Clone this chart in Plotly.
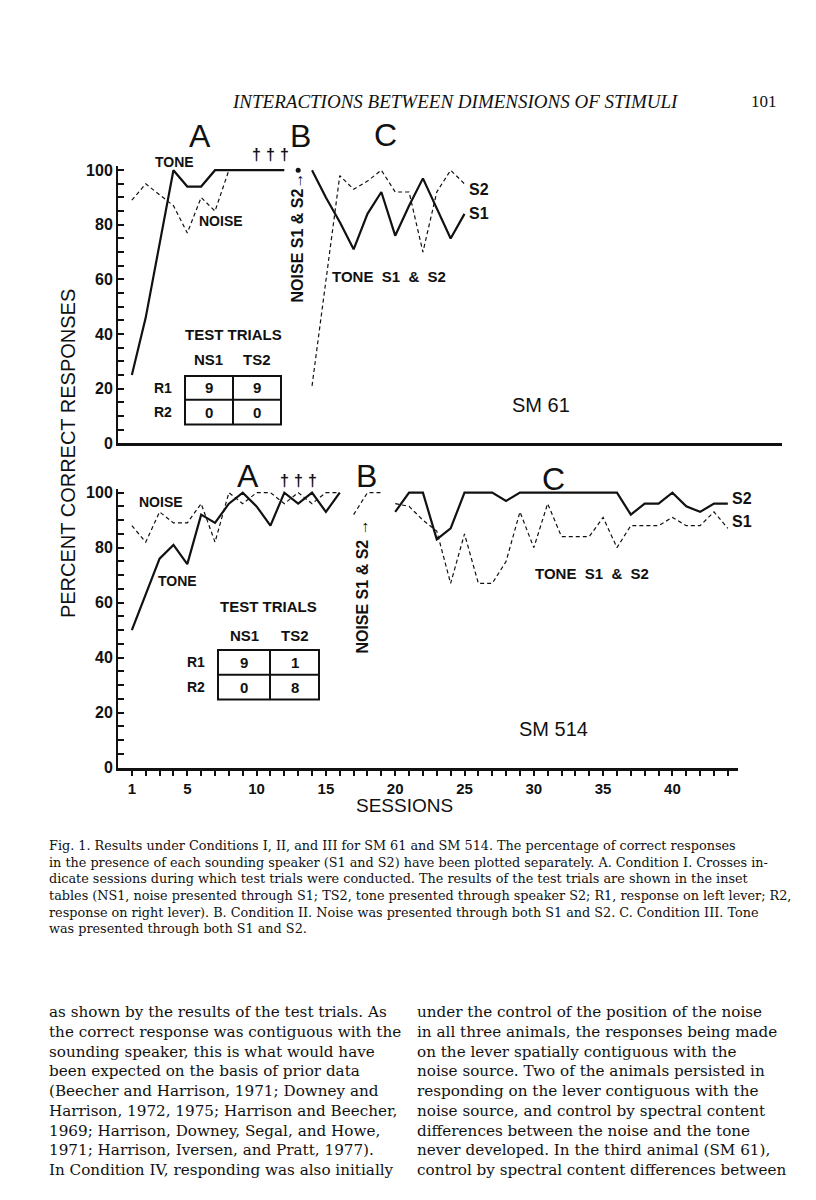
import plotly.graph_objects as go

W, H = 816, 1200


def px(x):
    return x / W


def py(y):
    return 1 - y / H


# ---------------- data ----------------
sm61_a_sessions = list(range(1, 13))
sm61_a_tone = [25, 46, 73, 100, 94, 94, 100, 100, 100, 100, 100, 100]
sm61_a_noise = [89, 95, 91, 87, 77, 90, 85, 100, 100, 100, 100, 100]
sm61_b_sessions = [13]
sm61_b_noise = [100]
sm61_c_sessions = list(range(14, 26))
sm61_c_s1 = [100, 90, 81, 71, 84, 92, 76, 87, 97, 86, 75, 84]
sm61_c_s2 = [21, 59, 98, 93, 96, 100, 92, 92, 70, 92, 100, 95]
sm61_test_sessions = [10, 11, 12]
sm61_table = [["9", "9"], ["0", "0"]]

sm514_a_sessions = list(range(1, 17))
sm514_a_tone = [50, 63, 76, 81, 74, 92, 89, 96, 100, 95, 88, 100, 96, 100, 93, 100]
sm514_a_noise = [88, 82, 93, 89, 89, 96, 82, 100, 96, 100, 100, 96, 100, 96, 100, 100]
sm514_b_sessions = [17, 18, 19]
sm514_b_noise = [92, 100, 100]
sm514_c_sessions = list(range(20, 45))
sm514_c_s2 = [93, 100, 100, 83, 87, 100, 100, 100, 97, 100, 100, 100, 100,
              100, 100, 100, 100, 92, 96, 96, 100, 95, 93, 96, 96]
sm514_c_s1 = [96, 95, 90, 86, 67, 85, 67, 67, 75, 93, 80, 96, 84,
              84, 84, 91, 80, 88, 88, 88, 91, 88, 88, 93, 87]
sm514_test_sessions = [12, 13, 14]
sm514_table = [["9", "1"], ["0", "8"]]

x_ticks = list(range(1, 45))
x_tick_labels = [str(v) if v in (1, 5, 10, 15, 20, 25, 30, 35, 40) else "" for v in x_ticks]
y_ticks = list(range(0, 101, 5))
y_tick_labels = [str(v) if v % 20 == 0 else "" for v in y_ticks]

SANS = "Liberation Sans"
SERIF = "Liberation Serif"
BODY = "DejaVu Serif"
BLACK = "#111111"
NB = "\u00a0"

fig = go.Figure()

solid = dict(color=BLACK, width=2.2)
dashed = dict(color=BLACK, width=1.2, dash="4px,3px")


def add_line(x, y, line, xa="x", ya="y"):
    fig.add_trace(go.Scatter(x=x, y=y, mode="lines", line=line, xaxis=xa, yaxis=ya,
                             showlegend=False, hoverinfo="skip"))


# top panel SM 61
add_line(sm61_a_sessions, sm61_a_tone, solid)
add_line(sm61_a_sessions, sm61_a_noise, dashed)
fig.add_trace(go.Scatter(x=sm61_b_sessions, y=sm61_b_noise, mode="markers",
                         marker=dict(color=BLACK, size=5), showlegend=False,
                         hoverinfo="skip", cliponaxis=False))
add_line(sm61_c_sessions, sm61_c_s1, solid)
add_line(sm61_c_sessions, sm61_c_s2, dashed)

# bottom panel SM 514
add_line(sm514_a_sessions, sm514_a_tone, solid, "x2", "y2")
add_line(sm514_a_sessions, sm514_a_noise, dashed, "x2", "y2")
add_line(sm514_b_sessions, sm514_b_noise, dashed, "x2", "y2")
add_line(sm514_c_sessions, sm514_c_s2, solid, "x2", "y2")
add_line(sm514_c_sessions, sm514_c_s1, dashed, "x2", "y2")

SCALE_X = 13.86
X0 = 118

tickfont = dict(family=SANS, size=16, color=BLACK, weight="bold")

yax = dict(range=[0, 101.5], showline=True, linewidth=2, linecolor=BLACK,
           ticks="inside", ticklen=6, tickwidth=1.5, tickcolor=BLACK,
           tickvals=y_ticks, ticktext=y_tick_labels, tickfont=tickfont,
           showgrid=False, zeroline=False, fixedrange=True)

fig.update_layout(
    width=W, height=H, margin=dict(l=0, r=0, t=0, b=0),
    paper_bgcolor="white", plot_bgcolor="white",
    xaxis=dict(domain=[px(X0), px(782)], range=[0, (782 - X0) / SCALE_X],
               showline=True, linewidth=2.5, linecolor=BLACK, ticks="",
               showticklabels=False, showgrid=False, zeroline=False, anchor="y"),
    yaxis=dict(domain=[py(444), py(444 - 101.5 * 2.76)], anchor="x", **yax),
    xaxis2=dict(domain=[px(X0), px(738)], range=[0, (738 - X0) / SCALE_X],
                showline=True, linewidth=2.5, linecolor=BLACK, ticks="outside",
                ticklen=6, tickwidth=1.5, tickcolor=BLACK, tickvals=x_ticks,
                ticktext=x_tick_labels, tickfont=dict(tickfont, size=15),
                showgrid=False, zeroline=False, anchor="y2"),
    yaxis2=dict(domain=[py(772), py(772 - 101.5 * 2.78)], anchor="x2", **yax),
)

annotations = []


def txt(x, y, s, size=14, bold=False, angle=0, xanchor="center", family=SANS,
        italic=False, xref="paper", yanchor="middle", align="center"):
    annotations.append(dict(
        x=(x if xref != "paper" else px(x)), y=py(y), xref=xref, yref="paper", text=s,
        showarrow=False, xanchor=xanchor, yanchor=yanchor, textangle=angle, align=align,
        font=dict(family=family, size=size, color=BLACK,
                  weight="bold" if bold else "normal",
                  style="italic" if italic else "normal")))


# header
txt(455, 99, "INTERACTIONS BETWEEN DIMENSIONS OF STIMULI", 19, family=SERIF, italic=True)
txt(764, 99, "101", 17, family=SERIF)

# condition letters
for (x, y, s) in [(200, 133, "A"), (300, 133, "B"), (385, 132, "C"),
                  (248, 477, "A"), (366, 477, "B"), (553, 480, "C")]:
    txt(x, y, s, 32)

# top panel labels
txt(174, 160, "TONE", 14, True)
txt(221, 219, "NOISE", 14, True)
txt(297, 236, "NOISE S1 &amp; S2→", 16, True, angle=-90)
txt(389, 275, f"TONE{NB} S1{NB} &amp;{NB} S2", 15, True)
txt(467, 188, "S2", 16, True, xanchor="left")
txt(467, 212, "S1", 16, True, xanchor="left")
txt(541, 405, "SM 61", 20)
for s in sm61_test_sessions:
    txt(s, 152, "†", 16, True, xref="x")

# bottom panel labels
txt(161, 503, "NOISE", 14, True)
txt(177, 583, "TONE", 14, True)
txt(363, 589, "NOISE S1 &amp; S2 →", 16, True, angle=-90)
txt(592, 576, f"TONE{NB} S1{NB} &amp;{NB} S2", 15, True)
txt(730, 500, "S2", 16, True, xanchor="left")
txt(730, 523, "S1", 16, True, xanchor="left")
txt(553, 733, "SM 514", 20)
for s in sm514_test_sessions:
    txt(s, 482, "†", 16, True, xref="x2")

# inset tables
shapes = []


def table(x0, y0, x1, y1, xm, ym, title_y, head_y, cells, rlabel_x):
    shapes.append(dict(type="rect", xref="paper", yref="paper", x0=px(x0), x1=px(x1),
                       y0=py(y1), y1=py(y0), line=dict(color=BLACK, width=2)))
    shapes.append(dict(type="line", xref="paper", yref="paper", x0=px(xm), x1=px(xm),
                       y0=py(y1), y1=py(y0), line=dict(color=BLACK, width=2)))
    shapes.append(dict(type="line", xref="paper", yref="paper", x0=px(x0), x1=px(x1),
                       y0=py(ym), y1=py(ym), line=dict(color=BLACK, width=2)))
    c1 = (x0 + xm) / 2
    c2 = (xm + x1) / 2
    txt((x0 + x1) / 2, title_y, "TEST TRIALS", 15, True)
    txt(c1, head_y, "NS1", 15, True)
    txt(c2, head_y, "TS2", 15, True)
    r1 = (y0 + ym) / 2
    r2 = (ym + y1) / 2
    txt(rlabel_x, r1, "R1", 14, True)
    txt(rlabel_x, r2, "R2", 14, True)
    txt(c1, r1, cells[0][0], 15, True)
    txt(c2, r1, cells[0][1], 15, True)
    txt(c1, r2, cells[1][0], 15, True)
    txt(c2, r2, cells[1][1], 15, True)


table(185, 376, 281, 425, 233, 400, 334, 359, sm61_table, 163)
table(218, 653, 319, 703, 270, 678, 609, 638, sm514_table, 196)

# axis titles
txt(68, 455, "PERCENT CORRECT RESPONSES", 20, angle=-90)
txt(404, 810, "SESSIONS", 19)

# caption
caption = [
    "Fig. 1. Results under Conditions I, II, and III for SM 61 and SM 514. The percentage of correct responses",
    "in the presence of each sounding speaker (S1 and S2) have been plotted separately. A. Condition I. Crosses in-",
    "dicate sessions during which test trials were conducted. The results of the test trials are shown in the inset",
    "tables (NS1, noise presented through S1; TS2, tone presented through speaker S2; R1, response on left lever; R2,",
    "response on right lever). B. Condition II. Noise was presented through both S1 and S2. C. Condition III. Tone",
    "was presented through both S1 and S2.",
]
txt(47, 841, "<br>".join(caption), 12.8, family=BODY, xanchor="left", yanchor="top", align="left")

left_col = [
    "as shown by the results of the test trials. As",
    "the correct response was contiguous with the",
    "sounding speaker, this is what would have",
    "been expected on the basis of prior data",
    "(Beecher and Harrison, 1971; Downey and",
    "Harrison, 1972, 1975; Harrison and Beecher,",
    "1969; Harrison, Downey, Segal, and Howe,",
    "1971; Harrison, Iversen, and Pratt, 1977).",
    "In Condition IV, responding was also initially",
]
right_col = [
    "under the control of the position of the noise",
    "in all three animals, the responses being made",
    "on the lever spatially contiguous with the",
    "noise source. Two of the animals persisted in",
    "responding on the lever contiguous with the",
    "noise source, and control by spectral content",
    "differences between the noise and the tone",
    "never developed. In the third animal (SM 61),",
    "control by spectral content differences between",
]
txt(47, 1008, "<br>".join(left_col), 15.2, family=BODY, xanchor="left", yanchor="top", align="left")
txt(415, 1008, "<br>".join(right_col), 15.2, family=BODY, xanchor="left", yanchor="top", align="left")

fig.update_layout(annotations=annotations, shapes=shapes)
fig.write_html("out.html", config={"displayModeBar": False},
               post_script="document.body.style.margin='0px';")
